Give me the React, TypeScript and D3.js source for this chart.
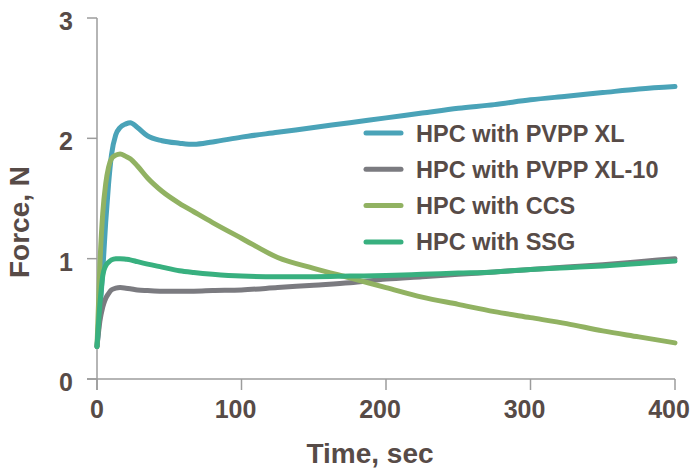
import * as d3 from "d3";
import React from "react";

// time grid (sec) shared by all series
const times = [0, 2, 4, 6, 8, 10, 13, 16, 20, 23, 28, 35, 45, 57, 67, 80, 100, 125, 150, 175, 200, 225, 250, 275, 300, 325, 350, 375, 400];

// force values (N)
const pvppXL = [0.27, 0.55, 0.9, 1.3, 1.62, 1.86, 2.03, 2.09, 2.12, 2.13, 2.09, 2.02, 1.98, 1.96, 1.95, 1.97, 2.01, 2.05, 2.09, 2.13, 2.17, 2.21, 2.25, 2.28, 2.32, 2.35, 2.38, 2.41, 2.43];
const pvppXL10 = [0.27, 0.48, 0.6, 0.67, 0.71, 0.74, 0.755, 0.76, 0.755, 0.75, 0.74, 0.735, 0.73, 0.73, 0.73, 0.735, 0.74, 0.76, 0.78, 0.8, 0.83, 0.85, 0.87, 0.89, 0.91, 0.93, 0.95, 0.975, 1.0];
const ccs = [0.27, 0.95, 1.38, 1.62, 1.76, 1.83, 1.86, 1.87, 1.85, 1.83, 1.77, 1.67, 1.56, 1.46, 1.39, 1.3, 1.17, 1.01, 0.92, 0.84, 0.76, 0.68, 0.62, 0.56, 0.51, 0.46, 0.4, 0.35, 0.3];
const ssg = [0.27, 0.62, 0.86, 0.94, 0.97, 0.99, 1.0, 1.0, 0.995, 0.99, 0.975, 0.955, 0.93, 0.9, 0.885, 0.87, 0.855, 0.85, 0.85, 0.855, 0.86, 0.87, 0.88, 0.89, 0.91, 0.925, 0.94, 0.96, 0.98];

const seriesNames = ["HPC with PVPP XL", "HPC with PVPP XL-10", "HPC with CCS", "HPC with SSG"];
const seriesValues = [pvppXL, pvppXL10, ccs, ssg];
const seriesColors = ["#4aa3b8", "#7b7b80", "#91b262", "#38b07f"];

const xTicks = [0, 100, 200, 300, 400];
const yTicks = [0, 1, 2, 3];

const textColor = "#574b47";
const axisColor = "#9c9c9c";
const font = "'Liberation Sans', Arial, sans-serif";

export default function App() {
  const width = 692;
  const height = 471;

  // scales
  const x = d3.scaleLinear().domain([0, 400]).range([97, 675]);
  const y = d3.scaleLinear().domain([0, 3]).range([379, 18]);

  const line = d3
    .line<[number, number]>()
    .x((d) => x(d[0]))
    .y((d) => y(d[1]))
    .curve(d3.curveMonotoneX);

  return (
    <svg
      width={width}
      height={height}
      style={{ position: "absolute", left: 0, top: 0, background: "#fff" }}
      fontFamily={font}
      fontWeight="bold"
    >
      {/* axes */}
      <line x1={x(0)} x2={x(0)} y1={y(3)} y2={y(0) + 11} stroke={axisColor} strokeWidth={1.5} />
      <line x1={x(0) - 10} x2={x(400)} y1={y(0)} y2={y(0)} stroke={axisColor} strokeWidth={1.5} />
      {yTicks.map((t) => (
        <g key={"y" + t}>
          <line x1={x(0) - 10} x2={x(0)} y1={y(t)} y2={y(t)} stroke={axisColor} strokeWidth={1.5} />
          <text x={73} y={y(t) + 12} textAnchor="end" fontSize={25} fill={textColor}>
            {t}
          </text>
        </g>
      ))}
      {xTicks.map((t) => (
        <g key={"x" + t}>
          <line x1={x(t)} x2={x(t)} y1={y(0)} y2={y(0) + 11} stroke={axisColor} strokeWidth={1.5} />
          <text x={x(t) - (t > 0 ? 6 : 0)} y={418} textAnchor="middle" fontSize={25} fill={textColor}>
            {t}
          </text>
        </g>
      ))}

      {/* axis titles */}
      <text x={370} y={463} textAnchor="middle" fontSize={28} fill={textColor}>
        Time, sec
      </text>
      <text
        transform="translate(29,222) rotate(-90)"
        textAnchor="middle"
        fontSize={28}
        fill={textColor}
      >
        Force, N
      </text>

      {/* series */}
      {seriesNames.map((name, i) => (
        <path
          key={name}
          d={line(times.map((t, j) => [t, seriesValues[i][j]] as [number, number])) || ""}
          fill="none"
          stroke={seriesColors[i]}
          strokeWidth={5}
          strokeLinecap="round"
          strokeLinejoin="round"
        />
      ))}

      {/* legend */}
      {seriesNames.map((name, i) => {
        const cy = 133 + i * 36.3;
        return (
          <g key={"lg" + name}>
            <line x1={366} x2={401} y1={cy} y2={cy} stroke={seriesColors[i]} strokeWidth={5} strokeLinecap="round" />
            <text x={416} y={cy + 8.5} fontSize={23.5} fill={textColor}>
              {name}
            </text>
          </g>
        );
      })}
    </svg>
  );
}
